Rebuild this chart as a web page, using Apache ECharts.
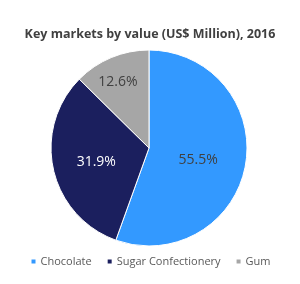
<!DOCTYPE html>
<html lang="en">
<head>
    <meta charset="UTF-8">
    <title>Key markets</title>
    <script src="https://cdn.jsdelivr.net/npm/echarts@6/dist/echarts.min.js"></script>
    <style>
        * { margin: 0; padding: 0; }
        #main { width: 300px; height: 284px; background: #fff; }
    </style>
</head>
<body>
    <div id="main"></div>
    <script>
        var categories = ['Chocolate', 'Sugar Confectionery', 'Gum'];
        var shares = [55.5, 31.9, 12.6];
        var colors = ['#3399ff', '#1b1f5e', '#a6a6a6'];
        var labelColors = ['#404040', '#ffffff', '#404040'];

        var myChart = echarts.init(document.getElementById('main'));
        var pieData = categories.map(function (name, i) {
            var d = {
                name: name,
                value: shares[i],
                itemStyle: { color: colors[i] },
                label: { color: labelColors[i], offset: [-2, 3] }
            };
            if (i === 2) d.label.offset = [-11, -18];
            return d;
        });

        var option = {
            backgroundColor: '#fff',
            title: {
                text: 'Key markets by value (US$ Million), 2016',
                left: 'center',
                top: 23,
                textStyle: { fontFamily: 'Open Sans', fontSize: 12.5, fontWeight: 'bold', color: '#404040' }
            },
            legend: {
                bottom: 12,
                left: 'center',
                itemWidth: 6,
                itemHeight: 6,
                itemGap: 14,
                icon: 'rect',
                textStyle: { fontFamily: 'Open Sans', fontSize: 11, color: '#595959', padding: [0, 0, 0, -1] },
                data: categories
            },
            series: [{
                type: 'pie',
                center: [149, 148],
                radius: 98,
                startAngle: 90,
                clockwise: true,
                avoidLabelOverlap: false,
                itemStyle: { borderColor: '#fff', borderWidth: 1 },
                label: {
                    position: 'inside',
                    fontFamily: 'Open Sans',
                    fontSize: 14,
                    formatter: function (p) { return p.value.toFixed(1) + '%'; }
                },
                labelLine: { show: false },
                emphasis: { disabled: true },
                data: pieData
            }]
        };
        myChart.setOption(option);
    </script>
</body>
</html>
